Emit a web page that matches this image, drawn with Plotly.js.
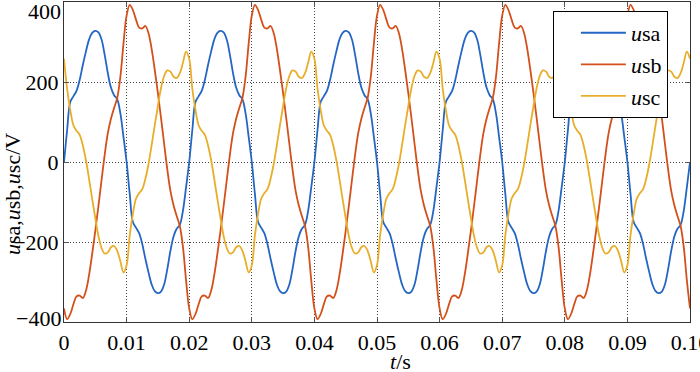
<!DOCTYPE html>
<html>
<head>
<meta charset="utf-8">
<script src="https://cdn.plot.ly/plotly-3.0.1.min.js"></script>
<style>html,body{margin:0;padding:0;background:#fff;}#chart{width:700px;height:372px;}</style>
</head>
<body>
<div id="chart"></div>
<script>
// sample spacing of the waveforms (s)
const t0 = 0;
const dt = 0.0005;

const seriesNames = ["<i>u</i>sa", "<i>u</i>sb", "<i>u</i>sc"];

// u_sa (V), sampled every 0.5 ms from 0 to 0.1 s
const usa = [
0, 80, 150, 164, 178, 205, 242, 276, 306, 323, 328, 324, 306, 268, 222, 186, 167, 157, 122, 63,
0, -80, -150, -164, -178, -205, -242, -276, -306, -323, -328, -324, -306, -268, -222, -186, -167, -157, -122, -63,
0, 80, 150, 164, 178, 205, 242, 276, 306, 323, 328, 324, 306, 268, 222, 186, 167, 157, 122, 63,
0, -80, -150, -164, -178, -205, -242, -276, -306, -323, -328, -324, -306, -268, -222, -186, -167, -157, -122, -63,
0, 80, 150, 164, 178, 205, 242, 276, 306, 323, 328, 324, 306, 268, 222, 186, 167, 157, 122, 63,
0, -80, -150, -164, -178, -205, -242, -276, -306, -323, -328, -324, -306, -268, -222, -186, -167, -157, -122, -63,
0, 80, 150, 164, 178, 205, 242, 276, 306, 323, 328, 324, 306, 268, 222, 186, 167, 157, 122, 63,
0, -80, -150, -164, -178, -205, -242, -276, -306, -323, -328, -324, -306, -268, -222, -186, -167, -157, -122, -63,
0, 80, 150, 164, 178, 205, 242, 276, 306, 323, 328, 324, 306, 268, 222, 186, 167, 157, 122, 63,
0, -80, -150, -164, -178, -205, -242, -276, -306, -323, -328, -324, -306, -268, -222, -186, -167, -157, -122, -63,
0
];

// u_sb (V)
const usb = [
-366, -393, -380, -356, -336, -334, -340, -322, -283, -230, -172, -110, -45, 18, 72, 108, 135, 160, 212, 296,
366, 393, 380, 356, 336, 334, 340, 322, 283, 230, 172, 110, 45, -18, -72, -108, -135, -160, -212, -296,
-366, -393, -380, -356, -336, -334, -340, -322, -283, -230, -172, -110, -45, 18, 72, 108, 135, 160, 212, 296,
366, 393, 380, 356, 336, 334, 340, 322, 283, 230, 172, 110, 45, -18, -72, -108, -135, -160, -212, -296,
-366, -393, -380, -356, -336, -334, -340, -322, -283, -230, -172, -110, -45, 18, 72, 108, 135, 160, 212, 296,
366, 393, 380, 356, 336, 334, 340, 322, 283, 230, 172, 110, 45, -18, -72, -108, -135, -160, -212, -296,
-366, -393, -380, -356, -336, -334, -340, -322, -283, -230, -172, -110, -45, 18, 72, 108, 135, 160, 212, 296,
366, 393, 380, 356, 336, 334, 340, 322, 283, 230, 172, 110, 45, -18, -72, -108, -135, -160, -212, -296,
-366, -393, -380, -356, -336, -334, -340, -322, -283, -230, -172, -110, -45, 18, 72, 108, 135, 160, 212, 296,
366, 393, 380, 356, 336, 334, 340, 322, 283, 230, 172, 110, 45, -18, -72, -108, -135, -160, -212, -296,
-366
];

// u_sc (V)
const usc = [
258, 183, 130, 92, 78, 68, 42, 5, -42, -92, -140, -185, -215, -229, -226, -213, -210, -222, -248, -276,
-258, -183, -130, -92, -78, -68, -42, -5, 42, 92, 140, 185, 215, 229, 226, 213, 210, 222, 248, 276,
258, 183, 130, 92, 78, 68, 42, 5, -42, -92, -140, -185, -215, -229, -226, -213, -210, -222, -248, -276,
-258, -183, -130, -92, -78, -68, -42, -5, 42, 92, 140, 185, 215, 229, 226, 213, 210, 222, 248, 276,
258, 183, 130, 92, 78, 68, 42, 5, -42, -92, -140, -185, -215, -229, -226, -213, -210, -222, -248, -276,
-258, -183, -130, -92, -78, -68, -42, -5, 42, 92, 140, 185, 215, 229, 226, 213, 210, 222, 248, 276,
258, 183, 130, 92, 78, 68, 42, 5, -42, -92, -140, -185, -215, -229, -226, -213, -210, -222, -248, -276,
-258, -183, -130, -92, -78, -68, -42, -5, 42, 92, 140, 185, 215, 229, 226, 213, 210, 222, 248, 276,
258, 183, 130, 92, 78, 68, 42, 5, -42, -92, -140, -185, -215, -229, -226, -213, -210, -222, -248, -276,
-258, -183, -130, -92, -78, -68, -42, -5, 42, 92, 140, 185, 215, 229, 226, 213, 210, 222, 248, 276,
258
];

const xTickVals = [0, 0.01, 0.02, 0.03, 0.04, 0.05, 0.06, 0.07, 0.08, 0.09, 0.1];
const xTickText = ["0", "0.01", "0.02", "0.03", "0.04", "0.05", "0.06", "0.07", "0.08", "0.09", "0.10"];
const yTickVals = [-400, -200, 0, 200, 400];
const yTickText = ["", "\u2212200", "0", "200", ""];
const yEdgeVals = [400, -400];
const yEdgeText = ["400", "\u2212400"];

const colors = ["#2466c4", "#d4501a", "#e8ae2a"];
const FONT = "Liberation Serif";
const FS = 22;

const traces = [usa, usb, usc].map((y, i) => ({
  type: "scatter",
  mode: "lines",
  x0: t0,
  dx: dt,
  y: y,
  name: seriesNames[i],
  line: {color: colors[i], width: 1.8, shape: "spline", smoothing: 1}
}));

const axisCommon = {
  showline: true,
  linecolor: "#333",
  linewidth: 1,
  mirror: "ticks",
  ticks: "inside",
  ticklen: 5,
  tickcolor: "#555",
  showgrid: true,
  gridcolor: "#444",
  griddash: "1px,2px",
  gridwidth: 1,
  zeroline: false,
  ticklabeloverflow: "allow",
  tickfont: {family: FONT, size: FS, color: "#000"}
};

const layout = {
  width: 700,
  height: 372,
  margin: {l: 64, r: 10, t: 2, b: 50},
  font: {family: FONT, size: FS, color: "#000"},
  paper_bgcolor: "#fff",
  plot_bgcolor: "#fff",
  showlegend: true,
  legend: {
    x: 0.781, y: 0.972, xanchor: "left", yanchor: "top",
    bgcolor: "#fff", bordercolor: "#000", borderwidth: 1,
    font: {family: FONT, size: FS, color: "#000"},
    itemwidth: 45,
    indentation: 22,
    tracegroupgap: 0
  },
  xaxis: Object.assign({}, axisCommon, {
    range: [-0.0000001, 0.1000001],
    tickmode: "array",
    tickvals: xTickVals,
    ticktext: xTickText,
    ticklabelstandoff: 1
  }),
  yaxis: Object.assign({}, axisCommon, {
    range: [-400, 400],
    tickmode: "array",
    tickvals: yTickVals,
    ticktext: yTickText,
    ticklabelstandoff: 0
  }),
  annotations: [
    {text: yEdgeText[0], xref: "paper", yref: "y", x: 0, y: yEdgeVals[0], xanchor: "right", yanchor: "middle",
     xshift: -1, yshift: -9, showarrow: false, font: {family: FONT, size: FS, color: "#000"}},
    {text: yEdgeText[1], xref: "paper", yref: "y", x: 0, y: yEdgeVals[1], xanchor: "right", yanchor: "middle",
     xshift: -1, yshift: 4, showarrow: false, font: {family: FONT, size: FS, color: "#000"}},
    {text: "<i>t</i>/s", xref: "paper", yref: "paper", x: 0.538, y: -0.122, xanchor: "center", yanchor: "middle",
     showarrow: false, font: {family: FONT, size: FS, color: "#000"}},
    {text: "<i>u</i>sa,<i>u</i>sb,<i>u</i>sc/V", xref: "paper", yref: "paper", x: -0.083, y: 0.40,
     xanchor: "center", yanchor: "middle", textangle: -90, showarrow: false,
     font: {family: FONT, size: FS, color: "#000"}}
  ]
};

Plotly.newPlot("chart", traces, layout, {staticPlot: true, displayModeBar: false});
</script>
</body>
</html>
